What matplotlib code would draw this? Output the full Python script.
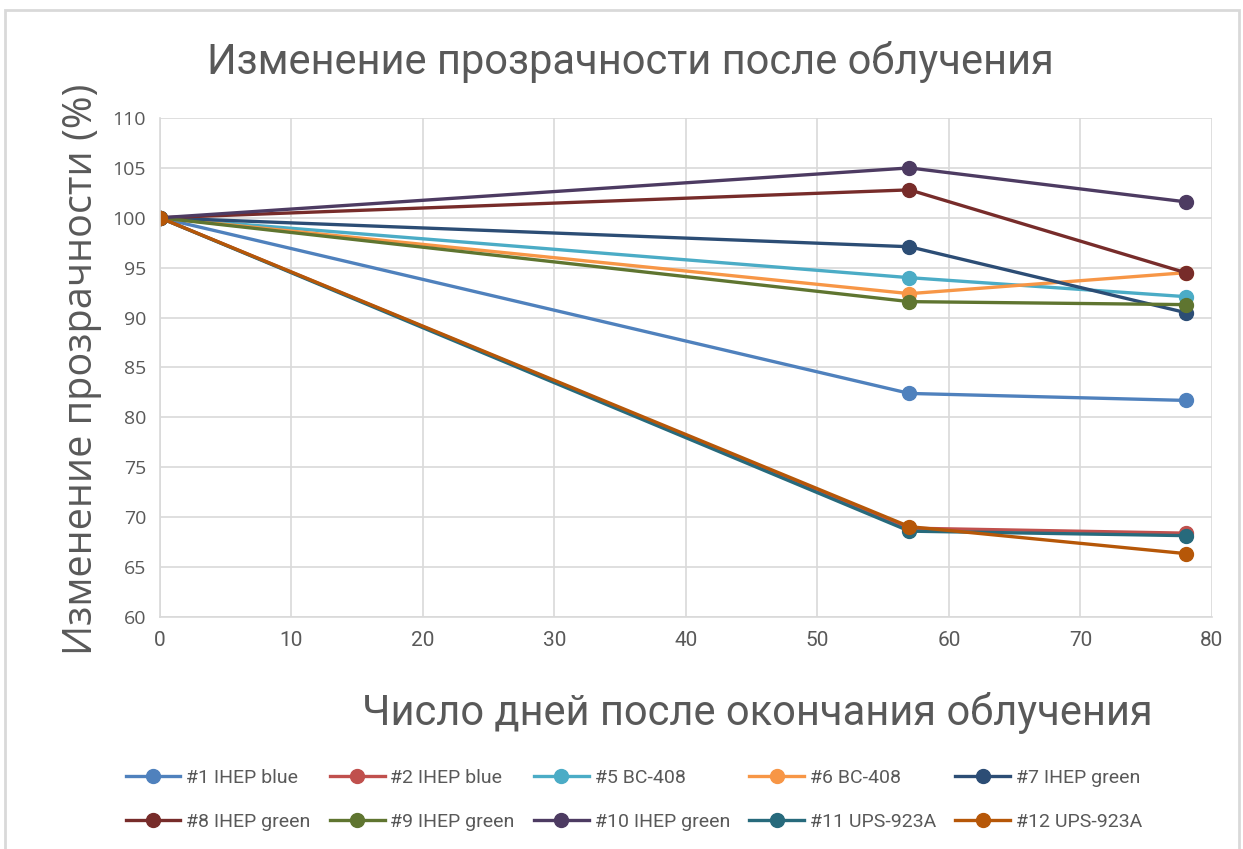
import matplotlib
matplotlib.use("Agg")
from matplotlib import pyplot as plt
from matplotlib.patches import Rectangle

days = [0, 57, 78]

labels = ["#1 IHEP blue", "#2 IHEP blue", "#5 BC-408", "#6 BC-408", "#7 IHEP green",
          "#8 IHEP green", "#9 IHEP green", "#10 IHEP green", "#11 UPS-923A", "#12 UPS-923A"]

s1 = [100, 82.4, 81.7]
s2 = [100, 68.9, 68.4]
s5 = [100, 94.0, 92.1]
s6 = [100, 92.4, 94.5]
s7 = [100, 97.1, 90.5]
s8 = [100, 102.8, 94.5]
s9 = [100, 91.6, 91.3]
s10 = [100, 105.0, 101.6]
s11 = [100, 68.6, 68.15]
s12 = [100, 69.05, 66.35]

series = [s1, s2, s5, s6, s7, s8, s9, s10, s11, s12]
colors = ["#4F81BD", "#C0504D", "#4BACC6", "#F79646", "#2C4D75",
          "#772C2A", "#5F7530", "#4D3B62", "#276A7C", "#B65708"]

narrow = ["Roboto", "DejaVu Sans"]
wide = ["Open Sans", "DejaVu Sans"]
grey = "#595959"
grid = "#d9d9d9"

fig = plt.figure(figsize=(12.43, 8.49), dpi=100)
ax = fig.add_axes([0.1287, 0.2733, 0.8463, 0.5877])

handles = []
for vals, col, lab in zip(series, colors, labels):
    h, = ax.plot(days, vals, color=col, lw=2.4, marker="o", ms=10, label=lab)
    handles.append(h)

ax.set_xlim(0, 80)
ax.set_ylim(60, 110)
ax.set_xticks(range(0, 81, 10))
ax.set_yticks(range(60, 111, 5))
ax.grid(True, color=grid, lw=1.2)
ax.set_axisbelow(True)
for sp in ["top", "right"]:
    ax.spines[sp].set_visible(False)
for sp in ["left", "bottom"]:
    ax.spines[sp].set_color(grid)
    ax.spines[sp].set_linewidth(1.2)
ax.tick_params(length=0, colors=grey, pad=10)
for t in ax.get_xticklabels():
    t.set_fontfamily(narrow)
    t.set_fontsize(15)
for t in ax.get_yticklabels():
    t.set_fontfamily(wide)
    t.set_fontsize(14)

fig.text(0.507, 0.927, "Изменение прозрачности после облучения", ha="center", va="center",
         fontsize=30, color=grey, family=narrow)
fig.text(0.609, 0.16, "Число дней после окончания облучения", ha="center", va="center",
         fontsize=30, color=grey, family=narrow)
fig.text(0.066, 0.565, "Изменение прозрачности (%)", ha="center", va="center",
         rotation=90, fontsize=28.5, color=grey, family=wide)

# legend reads row by row, matplotlib fills by column
order = [0, 5, 1, 6, 2, 7, 3, 8, 4, 9]
leg = fig.legend([handles[i] for i in order], [labels[i] for i in order],
                 loc="center", bbox_to_anchor=(0.51, 0.058), ncol=5, frameon=False,
                 prop={"family": narrow, "size": 14}, handlelength=2.8,
                 columnspacing=1.0, handletextpad=0.3, labelspacing=1.35)
for t in leg.get_texts():
    t.set_color(grey)

fig.patches.append(Rectangle((0.004, -0.01), 0.993, 0.998, transform=fig.transFigure,
                             fill=False, edgecolor=grid, lw=2))

fig.savefig("out.png", dpi=100)
